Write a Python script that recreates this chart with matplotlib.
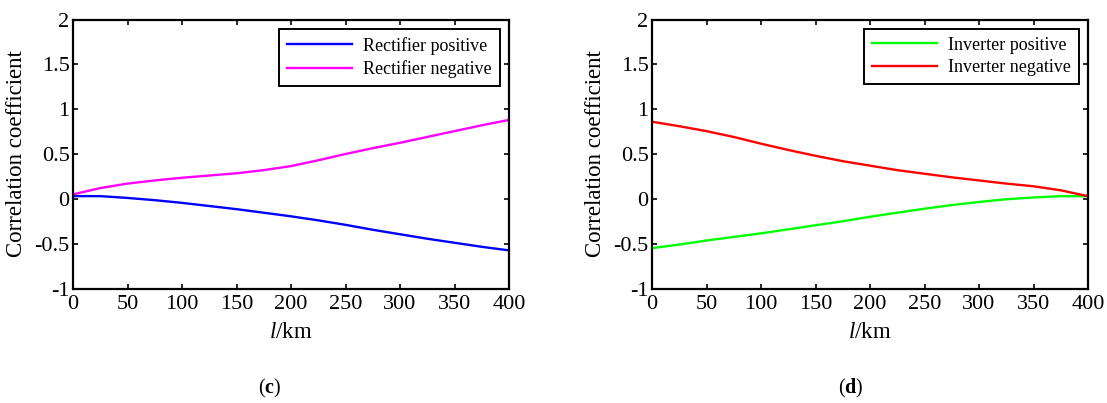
import matplotlib
matplotlib.use("Agg")
import matplotlib.pyplot as plt

plt.rcParams['font.family'] = ['Liberation Serif', 'DejaVu Serif']
plt.rcParams['mathtext.fontset'] = 'custom'
plt.rcParams['mathtext.rm'] = 'Liberation Serif'
plt.rcParams['mathtext.it'] = 'Liberation Serif:italic'
plt.rcParams['mathtext.bf'] = 'Liberation Serif:bold'

# data (distance in km)
dist = [0, 25, 50, 75, 100, 125, 150, 175, 200, 225, 250, 275, 300, 325, 350, 375, 400]
rect_pos = [0.03, 0.03, 0.01, -0.015, -0.045, -0.08, -0.115, -0.155, -0.195, -0.24,
            -0.29, -0.345, -0.395, -0.445, -0.49, -0.535, -0.575]
rect_neg = [0.05, 0.12, 0.17, 0.205, 0.235, 0.26, 0.285, 0.32, 0.365, 0.43,
            0.50, 0.565, 0.625, 0.69, 0.755, 0.82, 0.88]
inv_pos = [-0.55, -0.51, -0.465, -0.425, -0.385, -0.34, -0.295, -0.25, -0.20, -0.155,
           -0.11, -0.07, -0.035, -0.005, 0.015, 0.03, 0.03]
inv_neg = [0.86, 0.81, 0.755, 0.69, 0.615, 0.545, 0.48, 0.42, 0.37, 0.32,
           0.28, 0.24, 0.205, 0.17, 0.14, 0.095, 0.03]

xticks = [0, 50, 100, 150, 200, 250, 300, 350, 400]
yticks = [-1, -0.5, 0, 0.5, 1, 1.5, 2]
ytick_labels = ['-1', '-0.5', '0', '0.5', '1', '1.5', '2']

W, H = 1107, 403
fig = plt.figure(figsize=(W / 100, H / 100), dpi=100)

def make_ax(left_px, right_px):
    ax = fig.add_axes([left_px / W, 1 - 288.5 / H, (right_px - left_px) / W, (288.5 - 19.5) / H])
    ax.set_xlim(0, 400)
    ax.set_ylim(-1, 2)
    ax.set_xticks(xticks)
    ax.set_yticks(yticks)
    ax.set_yticklabels(ytick_labels)
    ax.tick_params(direction='in', top=True, right=True, length=3.5, width=1.2,
                   labelsize=16, pad=2.5)
    ax.tick_params(axis='x', pad=4.5)
    for s in ax.spines.values():
        s.set_linewidth(1.6)
    ax.set_ylabel('Correlation coefficient', fontsize=16.5, labelpad=5)
    ax.set_xlabel(r'$\mathit{l}$/km', fontsize=16.5, labelpad=6)
    return ax

ax1 = make_ax(73, 509)
ax1.plot(dist, rect_pos, color='#0000ff', lw=1.7, label='Rectifier positive')
ax1.plot(dist, rect_neg, color='#ff00ff', lw=1.7, label='Rectifier negative')

ax2 = make_ax(652, 1088)
ax2.plot(dist, inv_pos, color='#00ff00', lw=1.7, label='Inverter positive')
ax2.plot(dist, inv_neg, color='#ff0000', lw=1.7, label='Inverter negative')

for ax in (ax1, ax2):
    leg = ax.legend(loc='upper right', fontsize=13, handlelength=3.6,
                    fancybox=False, framealpha=1, edgecolor='black',
                    borderaxespad=0.5, labelspacing=0.3, handletextpad=0.6,
                    borderpad=0.45)
    leg.get_frame().set_linewidth(1.4)

fig.text(270 / W, 1 - 388 / H, r'($\mathbf{c}$)', fontsize=14.5, ha='center', va='center')
fig.text(851 / W, 1 - 388 / H, r'($\mathbf{d}$)', fontsize=14.5, ha='center', va='center')

fig.savefig('out.png', dpi=100)
